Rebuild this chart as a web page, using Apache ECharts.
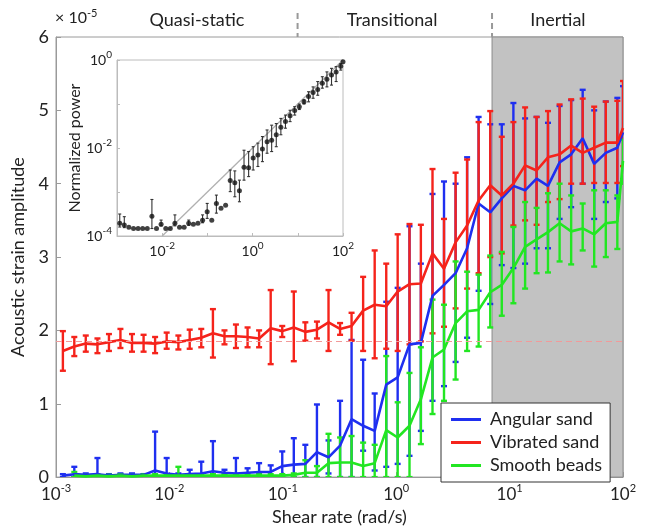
<!DOCTYPE html>
<html><head><meta charset="utf-8">
<script src="https://cdn.jsdelivr.net/npm/echarts@6/dist/echarts.min.js"></script>
<style>html,body{margin:0;padding:0;background:#fff}#c{width:645px;height:531px}</style>
</head><body><div id="c"></div>
<script>
// ---------- data ----------
const shearRate = [0.00115,0.00145,0.00183,0.00232,0.00293,0.00370,0.00468,0.00592,0.00748,0.00946,
  0.0120,0.0151,0.0191,0.0242,0.0306,0.0386,0.0489,0.0618,0.0782,0.0989,
  0.125,0.158,0.200,0.253,0.320,0.404,0.511,0.646,0.817,1.03,
  1.31,1.65,2.09,2.64,3.34,4.22,5.33,6.75,8.53,10.8,
  13.7,17.3,21.8,27.6,34.9,44.1,55.7,70.5,89.1,100];

const angularMean = [0.02,0.04,0.03,0.04,0.02,0.03,0.03,0.03,0.09,0.05,
  0.03,0.04,0.05,0.08,0.06,0.05,0.06,0.07,0.07,0.15,
  0.17,0.18,0.34,0.27,0.43,0.79,0.70,0.63,1.26,1.36,
  1.81,1.83,2.47,2.62,2.78,3.12,3.73,3.61,3.80,3.97,
  3.91,4.07,3.97,4.29,4.40,4.62,4.27,4.42,4.49,4.70];
const angularLow = [0,0,0,0,0,0,0,0,0,0,
  0,0,0,0,0.02,0,0.01,0,0,0,
  0,0,0,0.05,0,0,0.36,0.09,0.14,0.18,
  0.29,0.63,1.04,1.24,1.57,1.90,2.54,2.36,2.89,2.85,
  2.91,3.12,3.12,3.52,3.68,4.00,3.52,3.75,3.80,4.06];
const angularHigh = [0.04,0.14,0.05,0.26,0.04,0.05,0.05,0.04,0.62,0.26,
  0.05,0.10,0.21,0.49,0.10,0.26,0.12,0.19,0.16,0.35,
  0.53,0.44,0.99,0.50,1.04,1.87,1.60,1.14,2.39,2.58,
  3.42,2.91,3.86,4.03,4.00,4.36,4.91,4.81,4.81,5.10,
  4.89,4.91,4.83,5.06,5.14,5.28,5.00,5.12,5.17,5.33];

const vibratedMean = [1.72,1.78,1.82,1.81,1.84,1.87,1.83,1.83,1.82,1.85,
  1.84,1.87,1.90,1.96,1.92,1.92,1.91,1.89,2.03,1.99,
  2.04,1.98,2.01,2.11,2.02,2.06,2.27,2.35,2.33,2.53,
  2.63,2.64,3.05,2.84,3.20,3.43,3.77,3.98,3.84,4.00,
  4.25,4.18,4.36,4.40,4.52,4.42,4.49,4.56,4.56,4.76];
const vibratedLow = [1.45,1.65,1.71,1.69,1.72,1.76,1.71,1.71,1.69,1.75,
  1.74,1.75,1.77,1.63,1.81,1.76,1.77,1.77,1.54,1.91,
  1.58,1.86,1.89,1.72,1.94,1.86,1.72,1.62,1.75,1.72,
  1.81,1.85,1.96,2.05,2.30,2.57,2.78,3.00,3.05,3.43,
  3.50,3.44,3.75,3.79,4.00,4.00,4.01,4.01,4.01,4.24];
const vibratedHigh = [1.99,1.91,1.93,1.89,1.95,2.02,1.95,1.94,1.91,1.97,
  1.93,2.01,2.02,2.29,2.00,2.08,2.04,2.00,2.55,2.06,
  2.53,2.11,2.12,2.55,2.10,2.24,2.73,3.09,2.91,3.31,
  3.45,3.44,4.20,3.52,4.15,4.33,4.84,4.99,4.64,4.84,
  5.04,4.91,4.99,5.08,5.15,5.16,5.05,5.12,5.13,5.40];

const smoothMean = [null,0.02,0.01,0.02,0.01,0.02,0.01,0.02,0.02,0.02,
  0.02,0.02,0.02,0.02,0.02,0.02,0.02,0.02,0.02,0.02,
  0.03,0.06,0.06,0.19,0.20,0.20,0.15,0.19,0.64,0.54,
  0.70,1.06,1.63,1.74,2.10,2.26,2.28,2.52,2.62,2.85,
  3.14,3.24,3.34,3.46,3.35,3.39,3.31,3.46,3.48,4.31];
const smoothLow = [null,0,0,0,0,0,0,0,0,0,
  0,0,0,0,0,0,0,0,0,0,
  0,0,0,0,0,0,0,0,0,0,
  0,0.45,0.86,1.04,1.33,1.72,1.78,2.04,2.20,2.37,
  2.57,2.78,2.79,2.94,2.90,3.09,2.87,3.00,3.11,4.00];
const smoothHigh = [null,0.07,0.03,0.04,0.03,0.04,0.03,0.04,0.04,0.04,
  0.14,0.04,0.04,0.04,0.04,0.04,0.04,0.04,0.04,0.04,
  0.05,0.23,0.15,0.59,0.54,0.56,0.47,0.44,1.65,1.02,
  1.42,1.77,2.42,2.35,2.94,2.80,2.76,3.02,3.07,3.41,
  3.75,3.67,3.87,4.00,3.84,3.73,3.91,3.91,3.84,4.60];

const insetPower = [1.95e-4,1.78e-4,1.58e-4,1.48e-4,1.48e-4,1.48e-4,1.48e-4,2.82e-4,1.48e-4,1.86e-4,
  1.48e-4,1.48e-4,1.95e-4,1.58e-4,1.58e-4,1.95e-4,1.86e-4,1.95e-4,2.29e-4,3.55e-4,
  2.29e-4,5.5e-4,4.27e-4,5.0e-4,1.82e-3,1.62e-3,1.07e-3,3.63e-3,3.55e-3,5.9e-3,
  6.9e-3,9.5e-3,1.38e-2,1.51e-2,2.0e-2,2.95e-2,3.98e-2,5.4e-2,7.1e-2,8.7e-2,
  0.112,0.148,0.182,0.214,0.295,0.363,0.457,0.537,0.724,0.912];
const insetLow = [1.6e-4,1.55e-4,1.58e-4,1.48e-4,1.48e-4,1.48e-4,1.48e-4,1.48e-4,1.48e-4,1.7e-4,
  1.48e-4,1.48e-4,1.7e-4,1.58e-4,1.58e-4,1.75e-4,1.86e-4,1.95e-4,2.0e-4,2.51e-4,
  2.29e-4,3.31e-4,4.27e-4,5.0e-4,1.02e-3,7.8e-4,6.0e-4,1.86e-3,2.24e-3,3.16e-3,
  3.8e-3,4.9e-3,7.6e-3,8.3e-3,1.07e-2,2.0e-2,2.82e-2,3.98e-2,5.6e-2,7.5e-2,
  0.10,0.112,0.135,0.158,0.229,0.245,0.269,0.324,0.589,0.912];
const insetHigh = [3.16e-4,2.75e-4,1.58e-4,1.48e-4,1.48e-4,1.48e-4,1.48e-4,6.76e-4,1.48e-4,2.3e-4,
  1.48e-4,1.48e-4,3.02e-4,1.58e-4,1.58e-4,2.3e-4,1.86e-4,1.95e-4,3.02e-4,5.5e-4,
  2.29e-4,8.5e-4,4.27e-4,5.0e-4,3.16e-3,3.02e-3,1.86e-3,8.9e-3,8.3e-3,1.07e-2,
  1.29e-2,1.82e-2,2.57e-2,3.3e-2,3.6e-2,4.7e-2,5.6e-2,7.2e-2,8.7e-2,0.10,
  0.125,0.19,0.245,0.324,0.417,0.537,0.646,0.708,0.832,0.912];

const fitLine = [[0.01, 1e-4], [100, 1]];
const noiseFloor = 1.45e-4;
const vibratedBaseline = 1.85;
const inertialRange = [7.0, 100];
const regimeBounds = [0.135, 7.0];
const regimeLabels = ['Quasi-static', 'Transitional', 'Inertial'];
const regimeLabelAt = [0.0175, 0.92, 26.7];
const seriesNames = ['Angular sand', 'Vibrated sand', 'Smooth beads'];
const seriesColors = ['#1f2ff0', '#f5231b', '#22e622'];

// ---------- helpers ----------
const FONT = 'Lato, "Open Sans", sans-serif';
function pairs(xs, ys) { return xs.map((x, i) => [x, ys[i]]); }
function triples(xs, lo, hi) {
  const out = [];
  xs.forEach((x, i) => { if (lo[i] != null && hi[i] != null) out.push([x, lo[i], hi[i]]); });
  return out;
}
function errRender(color, lw, cap) {
  return function (params, api) {
    const x = api.value(0), lo = api.value(1), hi = api.value(2);
    if (lo === hi) return null;
    const a = api.coord([x, lo]), b = api.coord([x, hi]);
    const st = { stroke: color, lineWidth: lw, opacity: 1 };
    return { type: 'group', children: [
      { type: 'line', shape: { x1: a[0], y1: a[1], x2: a[0], y2: b[1] }, style: st },
      { type: 'line', shape: { x1: a[0] - cap, y1: a[1], x2: a[0] + cap, y2: a[1] }, style: st },
      { type: 'line', shape: { x1: a[0] - cap, y1: b[1], x2: a[0] + cap, y2: b[1] }, style: st }
    ]};
  };
}
function powLabel(v) {
  const e = Math.round(Math.log10(v));
  return '{b|10}{s|' + e + '}';
}
function powLabelEven(v) {
  const e = Math.round(Math.log10(v));
  return (e % 2 === 0) ? '{b|10}{s|' + e + '}' : '';
}
const mainRich = { b: { fontSize: 17, fontFamily: FONT, color: '#222' },
                   s: { fontSize: 11, fontFamily: FONT, color: '#222', padding: [0, 0, 12, 0] } };
const insetRich = { b: { fontSize: 14, fontFamily: FONT, color: '#222' },
                    s: { fontSize: 10, fontFamily: FONT, color: '#222', padding: [0, 0, 10, 0] } };

const means = [angularMean, vibratedMean, smoothMean];
const lows = [angularLow, vibratedLow, smoothLow];
const highs = [angularHigh, vibratedHigh, smoothHigh];

const series = [];
series.push({
  name: 'regions', type: 'line', xAxisIndex: 0, yAxisIndex: 0, z: 1,
  data: [[1, 0]], showSymbol: false, lineStyle: { opacity: 0 }, silent: true,
  markArea: { silent: true, itemStyle: { color: '#c2c2c2', borderColor: '#8c8c8c', borderWidth: 1 },
    data: [[{ xAxis: inertialRange[0], yAxis: 0 }, { xAxis: inertialRange[1], yAxis: 6 }]] },
  markLine: { silent: true, symbol: 'none', label: { show: false },
    lineStyle: { color: '#f29a9a', type: [6, 4], width: 1 },
    data: [{ yAxis: vibratedBaseline }] }
});
for (let s = 0; s < 3; s++) {
  series.push({
    name: seriesNames[s] + ' err', type: 'custom', xAxisIndex: 0, yAxisIndex: 0, z: 3, clip: true,
    renderItem: errRender(seriesColors[s], 2.4, 3), encode: { x: 0, y: [1, 2] },
    data: triples(shearRate, lows[s], highs[s])
  });
}
for (let s = 0; s < 3; s++) {
  series.push({
    name: seriesNames[s], type: 'line', xAxisIndex: 0, yAxisIndex: 0, z: 4,
    data: pairs(shearRate, means[s]).filter(p => p[1] != null), showSymbol: false,
    color: seriesColors[s], lineStyle: { width: 2.6, color: seriesColors[s] }
  });
}
series.push({
  name: 'fit', type: 'line', xAxisIndex: 1, yAxisIndex: 1, z: 5, data: fitLine, showSymbol: false,
  lineStyle: { color: '#b0b0b0', width: 1.3 }, silent: true,
  markLine: { silent: true, symbol: 'none', label: { show: false },
    lineStyle: { color: '#888', type: [3, 2], width: 1 }, data: [{ yAxis: noiseFloor }] }
});
series.push({
  name: 'inset err', type: 'custom', xAxisIndex: 1, yAxisIndex: 1, z: 6,
  renderItem: errRender('#333', 1.1, 1.5), encode: { x: 0, y: [1, 2] },
  data: triples(shearRate, insetLow, insetHigh)
});
series.push({
  name: 'inset', type: 'scatter', xAxisIndex: 1, yAxisIndex: 1, z: 7,
  data: pairs(shearRate, insetPower), symbolSize: 5, itemStyle: { color: '#111' }
});

const option = {
  animation: false,
  backgroundColor: '#fff',
  textStyle: { fontFamily: FONT },
  grid: [
    { left: 56, top: 37, right: 22, bottom: 51, show: true, borderColor: '#9a9a9a', borderWidth: 1, backgroundColor: 'transparent' },
    { left: 117, top: 60, width: 226, height: 176, show: true, borderColor: '#bcbcbc', borderWidth: 1, backgroundColor: '#fff', z: 4 }
  ],
  xAxis: [
    { type: 'log', logBase: 10, min: 0.001, max: 100, gridIndex: 0,
      name: 'Shear rate (rad/s)', nameLocation: 'middle', nameGap: 30,
      nameTextStyle: { fontSize: 18, color: '#222', fontFamily: FONT },
      axisLine: { lineStyle: { color: '#9a9a9a' } },
      axisTick: { inside: true, length: 5, lineStyle: { color: '#9a9a9a' } },
      axisLabel: { formatter: powLabel, rich: mainRich, margin: 6 },
      splitLine: { show: false } },
    { type: 'log', logBase: 10, min: 0.001, max: 100, gridIndex: 1, z: 5,
      axisLine: { lineStyle: { color: '#bcbcbc' } },
      axisTick: { inside: true, length: 3, lineStyle: { color: '#bcbcbc' } },
      axisLabel: { formatter: powLabelEven, rich: insetRich, margin: 5, showMinLabel: false },
      splitLine: { show: false } }
  ],
  yAxis: [
    { type: 'value', min: 0, max: 6, interval: 1, gridIndex: 0,
      name: 'Acoustic strain amplitude', nameLocation: 'middle', nameGap: 28, nameRotate: 90,
      nameTextStyle: { fontSize: 18, color: '#222', fontFamily: FONT },
      axisLine: { show: true, lineStyle: { color: '#9a9a9a' } },
      axisTick: { show: true, inside: true, length: 5, lineStyle: { color: '#9a9a9a' } },
      axisLabel: { fontSize: 18, color: '#222', margin: 7, fontFamily: FONT },
      splitLine: { show: false } },
    { type: 'log', logBase: 10, min: 1e-4, max: 1, gridIndex: 1, z: 5,
      name: 'Normalized power', nameLocation: 'middle', nameGap: 34, nameRotate: 90,
      nameTextStyle: { fontSize: 16, color: '#222', fontFamily: FONT },
      axisLine: { show: true, lineStyle: { color: '#bcbcbc' } },
      axisTick: { show: true, inside: true, length: 3, lineStyle: { color: '#bcbcbc' } },
      axisLabel: { formatter: powLabelEven, rich: insetRich, margin: 5 },
      splitLine: { show: false } }
  ],
  legend: {
    data: seriesNames, orient: 'vertical', left: 441, top: 403,
    backgroundColor: '#fff', borderColor: '#333', borderWidth: 1,
    padding: [6, 8, 6, 10], itemGap: 2, itemWidth: 30, itemHeight: 3, icon: 'rect',
    textStyle: { fontSize: 18, color: '#222', fontFamily: FONT, lineHeight: 21, padding: [0, 0, 0, 4] },
    z: 10
  },
  series: series
};

const chart = echarts.init(document.getElementById('c'), null, { renderer: 'canvas' });
chart.setOption(option);

const gx = regimeBounds.map(v => chart.convertToPixel({ xAxisIndex: 0 }, v));
const lx = regimeLabelAt.map(v => chart.convertToPixel({ xAxisIndex: 0 }, v));
const graphics = [];
gx.forEach(x => graphics.push({ type: 'line', shape: { x1: x, y1: 13, x2: x, y2: 37 },
  style: { stroke: '#999', lineWidth: 2, lineDash: [6, 4] }, z: 20 }));
lx.forEach((x, i) => graphics.push({ type: 'text', x: x, y: 20,
  style: { text: regimeLabels[i], fontSize: 18, fontFamily: FONT, fill: '#222', align: 'center', verticalAlign: 'middle' }, z: 20 }));
graphics.push({ type: 'text', x: 55, y: 18, z: 20,
  style: { text: '{a|× 10}{b|-5}', verticalAlign: 'middle', align: 'left',
    rich: { a: { fontSize: 16, fontFamily: FONT, fill: '#222' },
            b: { fontSize: 11, fontFamily: FONT, fill: '#222', padding: [0, 0, 10, 0] } } } });
chart.setOption({ graphic: graphics });
</script>
</body></html>
